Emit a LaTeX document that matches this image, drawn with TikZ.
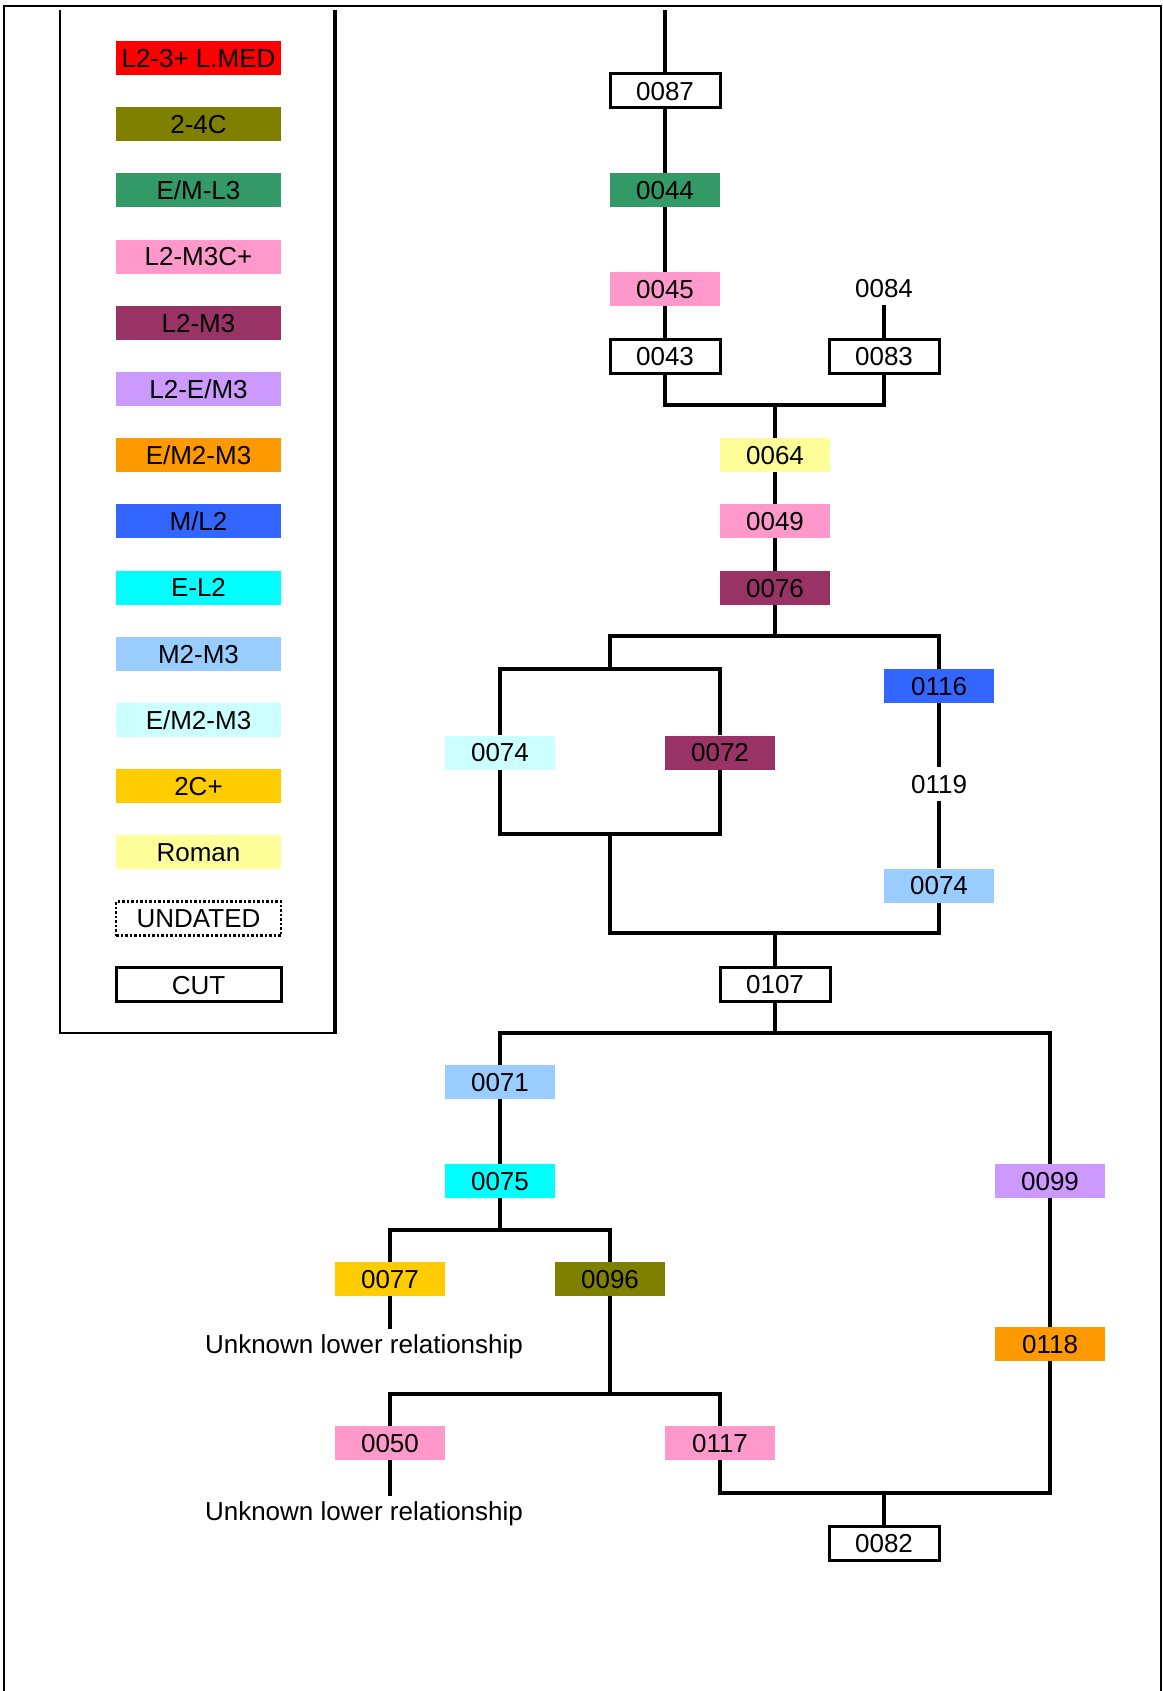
\documentclass[tikz,border=0pt]{standalone}
\usepackage{fontspec}
\setmainfont{Liberation Sans}
\definecolor{lmed}{HTML}{FF0000}
\definecolor{ctwo}{HTML}{808000}
\definecolor{emlt}{HTML}{339966}
\definecolor{lmc}{HTML}{FF99CC}
\definecolor{lmt}{HTML}{993366}
\definecolor{lem}{HTML}{CC99FF}
\definecolor{emo}{HTML}{FF9900}
\definecolor{ml}{HTML}{3366FF}
\definecolor{el}{HTML}{00FFFF}
\definecolor{mm}{HTML}{99CCFF}
\definecolor{emt}{HTML}{CCFFFF}
\definecolor{ctc}{HTML}{FFCC00}
\definecolor{roman}{HTML}{FFFF99}
\tikzset{
	tag/.style={minimum width=110pt,minimum height=34pt,inner sep=0pt,text height=18.6pt,text depth=0pt,font=\fontsize{26}{31}\selectfont},
	key/.style={tag,minimum width=165pt},
	cutbox/.style={draw,line width=3pt,fill=white},
	undated/.style={draw,dotted,line width=2.5pt},
	link/.style={line width=4pt},
}

\begin{document}
\begin{tikzpicture}[x=1pt,y=-1pt]
	\useasboundingbox (0,0) rectangle (1162,1691);
	\draw[line width=1.5pt] (4,1691) -- (4,6) -- (1161,6) -- (1161,1691);
	\draw[line width=2.5pt] (60,10) -- (60,1033) -- (335,1033);
	\draw[line width=4pt] (335,1034) -- (335,10);
	%
	\node[key,fill=lmed] (k1) at (198.5,58) {L2-3+ L.MED};
	\node[key,fill=ctwo] (k2) at (198.5,124.2) {2-4C};
	\node[key,fill=emlt] (k3) at (198.5,190.4) {E/M-L3};
	\node[key,fill=lmc] (k4) at (198.5,256.6) {L2-M3C+};
	\node[key,fill=lmt] (k5) at (198.5,322.8) {L2-M3};
	\node[key,fill=lem] (k6) at (198.5,389) {L2-E/M3};
	\node[key,fill=emo] (k7) at (198.5,455.2) {E/M2-M3};
	\node[key,fill=ml] (k8) at (198.5,521.4) {M/L2};
	\node[key,fill=el] (k9) at (198.5,587.6) {E-L2};
	\node[key,fill=mm] (k10) at (198.5,653.8) {M2-M3};
	\node[key,fill=emt] (k11) at (198.5,720) {E/M2-M3};
	\node[key,fill=ctc] (k12) at (198.5,786.2) {2C+};
	\node[key,fill=roman] (k13) at (198.5,852.4) {Roman};
	\node[key,undated] (k14) at (198.5,918.6) {UNDATED};
	\node[key,cutbox] (k15) at (198.5,984.8) {CUT};
	%
	\node[tag,cutbox] (c87) at (665,91) {0087};
	\node[tag,fill=emlt] (c44) at (665,190) {0044};
	\node[tag,fill=lmc] (c45) at (665,289) {0045};
	\node[tag] (c84) at (884,288) {0084};
	\node[tag,cutbox] (c43) at (665,356) {0043};
	\node[tag,cutbox] (c83) at (884,356) {0083};
	\node[tag,fill=roman] (c64) at (775,455) {0064};
	\node[tag,fill=lmc] (c49) at (775,521) {0049};
	\node[tag,fill=lmt] (c76) at (775,588) {0076};
	\node[tag,fill=emt] (c74a) at (500,752.5) {0074};
	\node[tag,fill=lmt] (c72) at (720,752.5) {0072};
	\node[tag,fill=ml] (c116) at (939,686) {0116};
	\node[tag] (c119) at (939,784) {0119};
	\node[tag,fill=mm] (c74b) at (939,885.5) {0074};
	\node[tag,cutbox] (c107) at (775,984) {0107};
	\node[tag,fill=mm] (c71) at (500,1082) {0071};
	\node[tag,fill=el] (c75) at (500,1181) {0075};
	\node[tag,fill=lem] (c99) at (1050,1181) {0099};
	\node[tag,fill=ctc] (c77) at (390,1279) {0077};
	\node[tag,fill=ctwo] (c96) at (610,1279) {0096};
	\node[tag,minimum height=30pt] (u1) at (364,1344) {Unknown lower relationship};
	\node[tag,fill=emo] (c118) at (1050,1344) {0118};
	\node[tag,fill=lmc] (c50) at (390,1443) {0050};
	\node[tag,fill=lmc] (c117) at (720,1443) {0117};
	\node[tag,minimum height=30pt] (u2) at (364,1511) {Unknown lower relationship};
	\node[tag,cutbox] (c82) at (884,1543) {0082};
	%
	\coordinate (top) at (665,10);
	\coordinate (j1) at (775,405);
	\coordinate (f1) at (775,636);
	\coordinate (sq) at (609.5,669);
	\coordinate (sqb) at (609.5,834);
	\coordinate (m1) at (775,933);
	\coordinate (f2) at (775,1033);
	\coordinate (f3) at (500,1230);
	\coordinate (f4) at (610,1394);
	\coordinate (j4) at (884,1493);
	%
	\draw[link] (top) -- (c87) -- (c44) -- (c45) -- (c43);
	\draw[link] (c84) -- (c83);
	\draw[link] (c43) |- (j1) -| (c83);
	\draw[link] (j1) -- (c64) -- (c49) -- (c76) -- (f1);
	\draw[link] (sq) |- (f1) -| (c116);
	\draw[link] (c74a) |- (sq) -| (c72);
	\draw[link] (c74a) |- (sqb) -| (c72);
	\draw[link] (sqb) |- (m1) -| (c74b);
	\draw[link] (c116) -- (c119) -- (c74b);
	\draw[link] (m1) -- (c107) -- (f2);
	\draw[link] (c71) |- (f2) -| (c99);
	\draw[link] (c71) -- (c75) -- (f3);
	\draw[link] (c77) |- (f3) -| (c96);
	\draw[link] (c77) -- (c77 |- u1.north);
	\draw[link] (c96) -- (f4);
	\draw[link] (c50) |- (f4) -| (c117);
	\draw[link] (c50) -- (c50 |- u2.north);
	\draw[link] (c99) -- (c118);
	\draw[link] (c117) |- (j4) -| (c118);
	\draw[link] (j4) -- (c82);
\end{tikzpicture}
\end{document}
